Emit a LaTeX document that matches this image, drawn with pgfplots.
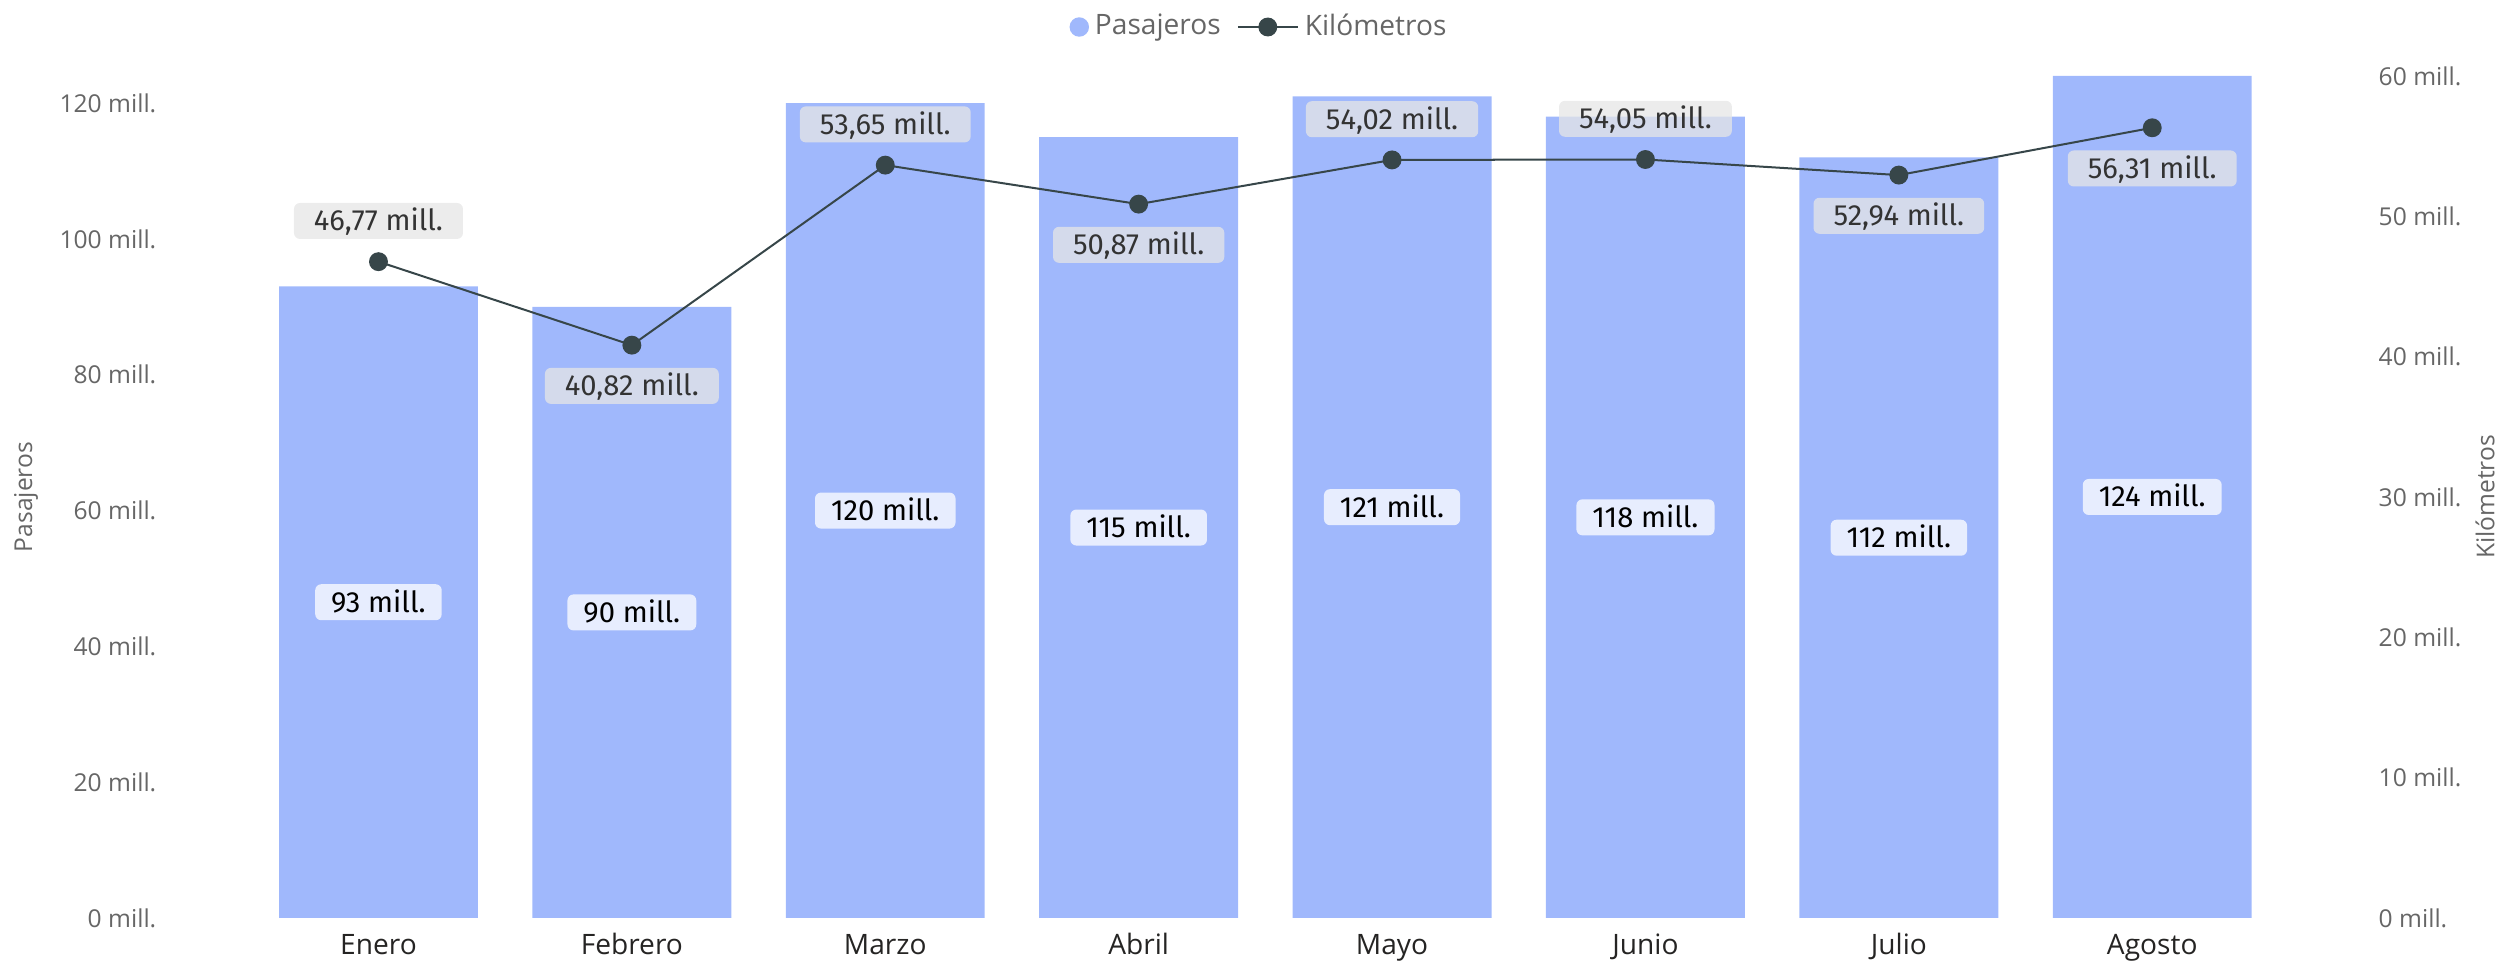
\documentclass[border=0pt]{standalone}
\usepackage{pgfplots}
\pgfplotsset{compat=1.18}
\usepackage{pgfplotstable}
\usepackage{fontspec}
\setmainfont{Open Sans}
\newfontfamily\din{Fira Sans}
\definecolor{barc}{HTML}{A0B8FC}
\definecolor{linec}{HTML}{374649}
\definecolor{tickc}{HTML}{666666}
\definecolor{xlabc}{HTML}{252423}
\definecolor{labc}{HTML}{333333}
\definecolor{boxg}{HTML}{E6E6E6}

\pgfplotstableread{
x pas km
0 93 46.77
1 90 40.82
2 120 53.65
3 115 50.87
4 121 54.02
5 118 54.05
6 112 52.94
7 124 56.31
}\data

\pgfplotsset{
  base/.style={
    scale only axis,
    width=21.85cm, height=8.42cm,
    xmin=-0.803, xmax=7.82,
    ymin=0,
    major tick length=0pt,
    axis line style={draw=none},
    tick style={draw=none},
  },
  kmlab/.style={forget plot, draw=none, mark=none, point meta=y,
    nodes near coords={\pgfmathprintnumber[fixed, fixed zerofill, precision=2, use comma, assume math mode=true]{\pgfplotspointmeta}~mill.},
    every node near coord/.append style={font=\din\fontsize{8.3}{9}\selectfont, text=labc,
      fill=boxg, fill opacity=0.75, text opacity=1, rounded corners=0.06cm,
      inner xsep=0.2cm, inner ysep=0cm, minimum height=0.36cm, text height=0.2cm, text depth=0cm}},
}

\begin{document}
\begin{tikzpicture}
\path[use as bounding box] (-1.75cm,-0.44cm) rectangle (23.29cm,9.18cm);

\begin{axis}[
  base,
  ymax=124,
  axis x line*=bottom,
  axis y line*=left,
  xtick={0,...,7},
  xticklabels={Enero,Febrero,Marzo,Abril,Mayo,Junio,Julio,Agosto},
  xticklabel style={anchor=base, yshift=-0.37cm, inner sep=0pt, text=xlabc, font=\fontsize{8}{9}\selectfont},
  ytick={0,20,...,120},
  yticklabels={0 mill.,20 mill.,40 mill.,60 mill.,80 mill.,100 mill.,120 mill.},
  yticklabel style={anchor=east, inner sep=0pt, xshift=-0.18cm, text=tickc, font=\fontsize{7}{8}\selectfont},
  ylabel={Pasajeros},
  every axis y label/.style={at={(rel axis cs:0,0.5)}, anchor=center, xshift=-1.49cm, rotate=90, text=tickc, font=\fontsize{7}{8}\selectfont},
]
\addplot[ybar, bar width=0.785, fill=barc, draw=none] table[x=x, y=pas] {\data};
\addplot[draw=none, mark=none, point meta=explicit,
  nodes near coords={\pgfmathprintnumber[fixed, precision=0, assume math mode=true]{\pgfplotspointmeta}~mill.},
  every node near coord/.append style={anchor=center, font=\din\fontsize{8.3}{9}\selectfont, text=black,
    fill=white, fill opacity=0.75, text opacity=1, rounded corners=0.06cm,
    inner xsep=0.16cm, inner ysep=0cm, minimum height=0.36cm, text height=0.2cm, text depth=0cm}
] table[x=x, y expr=\thisrow{pas}/2, meta=pas] {\data};
\end{axis}

\begin{axis}[
  base,
  ymax=60,
  axis x line=none,
  axis y line*=right,
  xtick=\empty,
  ytick={0,10,...,60},
  yticklabels={0 mill.,10 mill.,20 mill.,30 mill.,40 mill.,50 mill.,60 mill.},
  yticklabel style={anchor=west, inner sep=0pt, xshift=0.18cm, text=tickc, font=\fontsize{7}{8}\selectfont},
  ylabel={Kilómetros},
  every axis y label/.style={at={(rel axis cs:1,0.5)}, anchor=center, xshift=1.25cm, rotate=90, text=tickc, font=\fontsize{7}{8}\selectfont},
  legend columns=-1,
  legend style={at={(rel axis cs:0.5,1)}, anchor=center, yshift=0.49cm, xshift=-0.065cm,
    draw=none, fill=none, inner sep=0pt, font=\fontsize{8}{9}\selectfont, text=tickc,
    nodes={inner sep=0.06cm},
    /tikz/every even column/.append style={column sep=0.1cm}},
]
\addlegendimage{legend image code/.code={\fill[barc] (0.09cm,0cm) circle (0.09cm);}}
\addlegendentry{Pasajeros}
\addplot[color=linec, line width=0.57pt, mark=*, mark size=2.4pt, mark options={fill=linec}]
  table[x=x, y=km] {\data};
\addlegendentry{Kilómetros}
% labels above the points
\addplot[kmlab, every node near coord/.append style={anchor=south, yshift=0.22cm},
  x filter/.code={\ifcase\coordindex\or\def\pgfmathresult{}\or\or\def\pgfmathresult{}\or\or\or\def\pgfmathresult{}\or\def\pgfmathresult{}\fi}]
  table[x=x, y=km] {\data};
% labels below the points
\addplot[kmlab, every node near coord/.append style={anchor=north, yshift=-0.22cm},
  x filter/.code={\ifcase\coordindex\def\pgfmathresult{}\or\or\def\pgfmathresult{}\or\or\def\pgfmathresult{}\or\def\pgfmathresult{}\fi}]
  table[x=x, y=km] {\data};
\end{axis}
\end{tikzpicture}
\end{document}
